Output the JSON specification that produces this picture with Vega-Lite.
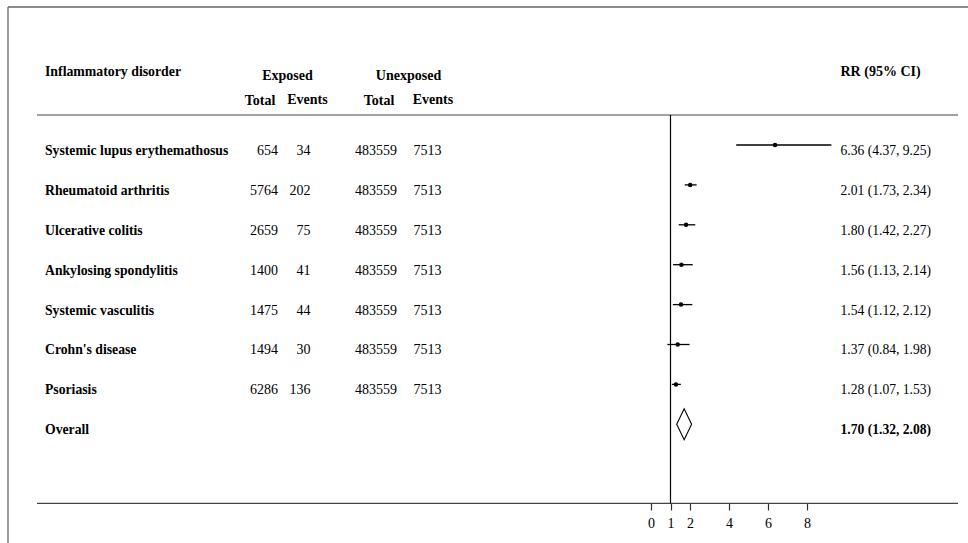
{
  "$schema": "https://vega.github.io/schema/vega-lite/v6.json",
  "width": 968,
  "height": 543,
  "padding": 0,
  "autosize": {"type": "none"},
  "background": "white",
  "config": {
    "view": {"stroke": null},
    "font": "Liberation Serif",
    "text": {"font": "Liberation Serif", "fontSize": 14, "color": "#000", "baseline": "alphabetic"},
    "axis": {"labelFont": "Liberation Serif", "labelFontSize": 14, "labelColor": "#000"}
  },
  "datasets": {
    "studies": [
      {"rank": 1, "disorder": "Systemic lupus erythemathosus", "exp_total": 654, "exp_events": 34, "unexp_total": 483559, "unexp_events": 7513, "rr": 6.36, "lo": 4.37, "hi": 9.25},
      {"rank": 2, "disorder": "Rheumatoid arthritis", "exp_total": 5764, "exp_events": 202, "unexp_total": 483559, "unexp_events": 7513, "rr": 2.01, "lo": 1.73, "hi": 2.34},
      {"rank": 3, "disorder": "Ulcerative colitis", "exp_total": 2659, "exp_events": 75, "unexp_total": 483559, "unexp_events": 7513, "rr": 1.80, "lo": 1.42, "hi": 2.27},
      {"rank": 4, "disorder": "Ankylosing spondylitis", "exp_total": 1400, "exp_events": 41, "unexp_total": 483559, "unexp_events": 7513, "rr": 1.56, "lo": 1.13, "hi": 2.14},
      {"rank": 5, "disorder": "Systemic vasculitis", "exp_total": 1475, "exp_events": 44, "unexp_total": 483559, "unexp_events": 7513, "rr": 1.54, "lo": 1.12, "hi": 2.12},
      {"rank": 6, "disorder": "Crohn's disease", "exp_total": 1494, "exp_events": 30, "unexp_total": 483559, "unexp_events": 7513, "rr": 1.37, "lo": 0.84, "hi": 1.98},
      {"rank": 7, "disorder": "Psoriasis", "exp_total": 6286, "exp_events": 136, "unexp_total": 483559, "unexp_events": 7513, "rr": 1.28, "lo": 1.07, "hi": 1.53},
      {"rank": 8, "disorder": "Overall", "rr": 1.70, "lo": 1.32, "hi": 2.08}
    ]
  },
  "resolve": {"scale": {"x": "independent", "y": "shared"}},
  "layer": [
    {
      "layer": [
        {
          "data": {"values": [{}]},
          "mark": {"type": "rule", "color": "#666", "strokeWidth": 1.3},
          "encoding": {
            "x": {"datum": 0, "type": "quantitative", "axis": null, "scale": {"domain": [0,1,2,3,4,5,6,7,8,9,10,11,12,13,14,15], "range": [8,37,45,260,278,287.5,307.5,310.5,379,397,408.5,433,441.5,840.5,958,968], "zero": false, "nice": false}},
            "x2": {"datum": 15},
            "y": {"datum": -2.459, "type": "quantitative", "axis": null, "scale": {"domain": [-2.634, 10.975], "reverse": true, "zero": false, "nice": false}}
          }
        },
        {
          "data": {"values": [{}]},
          "mark": {"type": "rule", "color": "#666", "strokeWidth": 1.3},
          "encoding": {
            "x": {"datum": 0, "type": "quantitative", "axis": null, "scale": {"domain": [0,1,2,3,4,5,6,7,8,9,10,11,12,13,14,15], "range": [8,37,45,260,278,287.5,307.5,310.5,379,397,408.5,433,441.5,840.5,958,968], "zero": false, "nice": false}},
            "y": {"datum": -2.459, "type": "quantitative", "axis": null, "scale": {"domain": [-2.634, 10.975], "reverse": true, "zero": false, "nice": false}},
            "y2": {"datum": 10.975}
          }
        },
        {
          "data": {"values": [{"at": 0.248}, {"at": 9.98}]},
          "mark": {"type": "rule", "color": "#444", "strokeWidth": 1.2},
          "encoding": {
            "x": {"datum": 1, "type": "quantitative", "axis": null, "scale": {"domain": [0,1,2,3,4,5,6,7,8,9,10,11,12,13,14,15], "range": [8,37,45,260,278,287.5,307.5,310.5,379,397,408.5,433,441.5,840.5,958,968], "zero": false, "nice": false}},
            "x2": {"datum": 14},
            "y": {"field": "at", "type": "quantitative", "axis": null, "scale": {"domain": [-2.634, 10.975], "reverse": true, "zero": false, "nice": false}}
          }
        },
        {
          "data": {"values": [{}]},
          "mark": {"type": "text", "text": "Inflammatory disorder", "align": "left", "fontWeight": "bold", "fontSize": 13.8},
          "encoding": {
            "x": {"datum": 2, "type": "quantitative", "axis": null, "scale": {"domain": [0,1,2,3,4,5,6,7,8,9,10,11,12,13,14,15], "range": [8,37,45,260,278,287.5,307.5,310.5,379,397,408.5,433,441.5,840.5,958,968], "zero": false, "nice": false}},
            "y": {"datum": -0.729, "type": "quantitative", "axis": null, "scale": {"domain": [-2.634, 10.975], "reverse": true, "zero": false, "nice": false}}
          }
        },
        {
          "data": {"values": [{}]},
          "mark": {"type": "text", "text": "RR (95% CI)", "align": "left", "fontWeight": "bold"},
          "encoding": {
            "x": {"datum": 13, "type": "quantitative", "axis": null, "scale": {"domain": [0,1,2,3,4,5,6,7,8,9,10,11,12,13,14,15], "range": [8,37,45,260,278,287.5,307.5,310.5,379,397,408.5,433,441.5,840.5,958,968], "zero": false, "nice": false}},
            "y": {"datum": -0.729, "type": "quantitative", "axis": null, "scale": {"domain": [-2.634, 10.975], "reverse": true, "zero": false, "nice": false}}
          }
        },
        {
          "data": {"values": [{}]},
          "mark": {"type": "text", "text": "Exposed", "align": "center", "fontWeight": "bold"},
          "encoding": {
            "x": {"datum": 5, "type": "quantitative", "axis": null, "scale": {"domain": [0,1,2,3,4,5,6,7,8,9,10,11,12,13,14,15], "range": [8,37,45,260,278,287.5,307.5,310.5,379,397,408.5,433,441.5,840.5,958,968], "zero": false, "nice": false}},
            "y": {"datum": -0.64, "type": "quantitative", "axis": null, "scale": {"domain": [-2.634, 10.975], "reverse": true, "zero": false, "nice": false}}
          }
        },
        {
          "data": {"values": [{}]},
          "mark": {"type": "text", "text": "Unexposed", "align": "center", "fontWeight": "bold"},
          "encoding": {
            "x": {"datum": 10, "type": "quantitative", "axis": null, "scale": {"domain": [0,1,2,3,4,5,6,7,8,9,10,11,12,13,14,15], "range": [8,37,45,260,278,287.5,307.5,310.5,379,397,408.5,433,441.5,840.5,958,968], "zero": false, "nice": false}},
            "y": {"datum": -0.64, "type": "quantitative", "axis": null, "scale": {"domain": [-2.634, 10.975], "reverse": true, "zero": false, "nice": false}}
          }
        },
        {
          "data": {"values": [{}]},
          "mark": {"type": "text", "text": "Total", "align": "center", "fontWeight": "bold"},
          "encoding": {
            "x": {"datum": 3, "type": "quantitative", "axis": null, "scale": {"domain": [0,1,2,3,4,5,6,7,8,9,10,11,12,13,14,15], "range": [8,37,45,260,278,287.5,307.5,310.5,379,397,408.5,433,441.5,840.5,958,968], "zero": false, "nice": false}},
            "y": {"datum": -0.005, "type": "quantitative", "axis": null, "scale": {"domain": [-2.634, 10.975], "reverse": true, "zero": false, "nice": false}}
          }
        },
        {
          "data": {"values": [{}]},
          "mark": {"type": "text", "text": "Events", "align": "center", "fontWeight": "bold"},
          "encoding": {
            "x": {"datum": 6, "type": "quantitative", "axis": null, "scale": {"domain": [0,1,2,3,4,5,6,7,8,9,10,11,12,13,14,15], "range": [8,37,45,260,278,287.5,307.5,310.5,379,397,408.5,433,441.5,840.5,958,968], "zero": false, "nice": false}},
            "y": {"datum": -0.015, "type": "quantitative", "axis": null, "scale": {"domain": [-2.634, 10.975], "reverse": true, "zero": false, "nice": false}}
          }
        },
        {
          "data": {"values": [{}]},
          "mark": {"type": "text", "text": "Total", "align": "center", "fontWeight": "bold"},
          "encoding": {
            "x": {"datum": 8, "type": "quantitative", "axis": null, "scale": {"domain": [0,1,2,3,4,5,6,7,8,9,10,11,12,13,14,15], "range": [8,37,45,260,278,287.5,307.5,310.5,379,397,408.5,433,441.5,840.5,958,968], "zero": false, "nice": false}},
            "y": {"datum": 0.01, "type": "quantitative", "axis": null, "scale": {"domain": [-2.634, 10.975], "reverse": true, "zero": false, "nice": false}}
          }
        },
        {
          "data": {"values": [{}]},
          "mark": {"type": "text", "text": "Events", "align": "center", "fontWeight": "bold"},
          "encoding": {
            "x": {"datum": 11, "type": "quantitative", "axis": null, "scale": {"domain": [0,1,2,3,4,5,6,7,8,9,10,11,12,13,14,15], "range": [8,37,45,260,278,287.5,307.5,310.5,379,397,408.5,433,441.5,840.5,958,968], "zero": false, "nice": false}},
            "y": {"datum": -0.04, "type": "quantitative", "axis": null, "scale": {"domain": [-2.634, 10.975], "reverse": true, "zero": false, "nice": false}}
          }
        },
        {
          "data": {"name": "studies"},
          "mark": {"type": "text", "align": "left", "fontWeight": "bold", "fontSize": 13.7, "dy": 10},
          "encoding": {
            "x": {"datum": 2, "type": "quantitative", "axis": null, "scale": {"domain": [0,1,2,3,4,5,6,7,8,9,10,11,12,13,14,15], "range": [8,37,45,260,278,287.5,307.5,310.5,379,397,408.5,433,441.5,840.5,958,968], "zero": false, "nice": false}},
            "y": {"field": "rank", "type": "quantitative", "axis": null, "scale": {"domain": [-2.634, 10.975], "reverse": true, "zero": false, "nice": false}},
            "text": {"field": "disorder", "type": "nominal"}
          }
        },
        {
          "data": {"name": "studies"},
          "transform": [{"filter": "isValid(datum.exp_total)"}],
          "mark": {"type": "text", "align": "right", "dy": 10},
          "encoding": {
            "x": {"datum": 4, "type": "quantitative", "axis": null, "scale": {"domain": [0,1,2,3,4,5,6,7,8,9,10,11,12,13,14,15], "range": [8,37,45,260,278,287.5,307.5,310.5,379,397,408.5,433,441.5,840.5,958,968], "zero": false, "nice": false}},
            "y": {"field": "rank", "type": "quantitative", "axis": null, "scale": {"domain": [-2.634, 10.975], "reverse": true, "zero": false, "nice": false}},
            "text": {"field": "exp_total", "type": "quantitative", "format": "d"}
          }
        },
        {
          "data": {"name": "studies"},
          "transform": [{"filter": "isValid(datum.exp_events)"}],
          "mark": {"type": "text", "align": "right", "dy": 10},
          "encoding": {
            "x": {"datum": 7, "type": "quantitative", "axis": null, "scale": {"domain": [0,1,2,3,4,5,6,7,8,9,10,11,12,13,14,15], "range": [8,37,45,260,278,287.5,307.5,310.5,379,397,408.5,433,441.5,840.5,958,968], "zero": false, "nice": false}},
            "y": {"field": "rank", "type": "quantitative", "axis": null, "scale": {"domain": [-2.634, 10.975], "reverse": true, "zero": false, "nice": false}},
            "text": {"field": "exp_events", "type": "quantitative", "format": "d"}
          }
        },
        {
          "data": {"name": "studies"},
          "transform": [{"filter": "isValid(datum.unexp_total)"}],
          "mark": {"type": "text", "align": "right", "dy": 10},
          "encoding": {
            "x": {"datum": 9, "type": "quantitative", "axis": null, "scale": {"domain": [0,1,2,3,4,5,6,7,8,9,10,11,12,13,14,15], "range": [8,37,45,260,278,287.5,307.5,310.5,379,397,408.5,433,441.5,840.5,958,968], "zero": false, "nice": false}},
            "y": {"field": "rank", "type": "quantitative", "axis": null, "scale": {"domain": [-2.634, 10.975], "reverse": true, "zero": false, "nice": false}},
            "text": {"field": "unexp_total", "type": "quantitative", "format": "d"}
          }
        },
        {
          "data": {"name": "studies"},
          "transform": [{"filter": "isValid(datum.unexp_events)"}],
          "mark": {"type": "text", "align": "right", "dy": 10},
          "encoding": {
            "x": {"datum": 12, "type": "quantitative", "axis": null, "scale": {"domain": [0,1,2,3,4,5,6,7,8,9,10,11,12,13,14,15], "range": [8,37,45,260,278,287.5,307.5,310.5,379,397,408.5,433,441.5,840.5,958,968], "zero": false, "nice": false}},
            "y": {"field": "rank", "type": "quantitative", "axis": null, "scale": {"domain": [-2.634, 10.975], "reverse": true, "zero": false, "nice": false}},
            "text": {"field": "unexp_events", "type": "quantitative", "format": "d"}
          }
        },
        {
          "data": {"name": "studies"},
          "transform": [
            {"filter": "datum.disorder !== 'Overall'"},
            {"calculate": "format(datum.rr, '.2f') + ' (' + format(datum.lo, '.2f') + ', ' + format(datum.hi, '.2f') + ')'", "as": "ci_label"}
          ],
          "mark": {"type": "text", "align": "left", "fontSize": 13.6, "dy": 10},
          "encoding": {
            "x": {"datum": 13, "type": "quantitative", "axis": null, "scale": {"domain": [0,1,2,3,4,5,6,7,8,9,10,11,12,13,14,15], "range": [8,37,45,260,278,287.5,307.5,310.5,379,397,408.5,433,441.5,840.5,958,968], "zero": false, "nice": false}},
            "y": {"field": "rank", "type": "quantitative", "axis": null, "scale": {"domain": [-2.634, 10.975], "reverse": true, "zero": false, "nice": false}},
            "text": {"field": "ci_label", "type": "nominal"}
          }
        },
        {
          "data": {"name": "studies"},
          "transform": [
            {"filter": "datum.disorder === 'Overall'"},
            {"calculate": "format(datum.rr, '.2f') + ' (' + format(datum.lo, '.2f') + ', ' + format(datum.hi, '.2f') + ')'", "as": "ci_label"}
          ],
          "mark": {"type": "text", "align": "left", "fontWeight": "bold", "fontSize": 13.6, "dy": 10},
          "encoding": {
            "x": {"datum": 13, "type": "quantitative", "axis": null, "scale": {"domain": [0,1,2,3,4,5,6,7,8,9,10,11,12,13,14,15], "range": [8,37,45,260,278,287.5,307.5,310.5,379,397,408.5,433,441.5,840.5,958,968], "zero": false, "nice": false}},
            "y": {"field": "rank", "type": "quantitative", "axis": null, "scale": {"domain": [-2.634, 10.975], "reverse": true, "zero": false, "nice": false}},
            "text": {"field": "ci_label", "type": "nominal"}
          }
        }
      ]
    },
    {
      "layer": [
        {
          "data": {"values": [{}]},
          "mark": {"type": "rule", "color": "#000", "strokeWidth": 1.2},
          "encoding": {
            "x": {"datum": 1, "type": "quantitative", "scale": {"domain": [-33.3846, 16.2564], "zero": false, "nice": false}, "axis": {"values": [0, 1, 2, 4, 6, 8], "offset": -40, "domain": false, "grid": false, "tickSize": 7, "tickColor": "#333", "tickWidth": 1.2, "labelFont": "Liberation Serif", "labelFontSize": 14, "labelColor": "#000", "labelPadding": 6, "labelFlush": false, "labelOverlap": false, "title": null}},
            "y": {"datum": 0.248, "type": "quantitative", "axis": null, "scale": {"domain": [-2.634, 10.975], "reverse": true, "zero": false, "nice": false}},
            "y2": {"datum": 9.98}
          }
        },
        {
          "data": {"name": "studies"},
          "transform": [{"filter": "datum.disorder !== 'Overall'"}],
          "mark": {"type": "rule", "color": "#000", "strokeWidth": 1.3},
          "encoding": {
            "x": {"field": "lo", "type": "quantitative", "scale": {"domain": [-33.3846, 16.2564], "zero": false, "nice": false}, "axis": {"values": [0, 1, 2, 4, 6, 8], "offset": -40, "domain": false, "grid": false, "tickSize": 7, "tickColor": "#333", "tickWidth": 1.2, "labelFont": "Liberation Serif", "labelFontSize": 14, "labelColor": "#000", "labelPadding": 6, "labelFlush": false, "labelOverlap": false, "title": null}},
            "x2": {"field": "hi"},
            "y": {"field": "rank", "type": "quantitative", "axis": null, "scale": {"domain": [-2.634, 10.975], "reverse": true, "zero": false, "nice": false}}
          }
        },
        {
          "data": {"name": "studies"},
          "transform": [{"filter": "datum.disorder !== 'Overall'"}],
          "mark": {"type": "point", "shape": "circle", "filled": true, "color": "#000", "size": 20, "opacity": 1},
          "encoding": {
            "x": {"field": "rr", "type": "quantitative", "scale": {"domain": [-33.3846, 16.2564], "zero": false, "nice": false}, "axis": {"values": [0, 1, 2, 4, 6, 8], "offset": -40, "domain": false, "grid": false, "tickSize": 7, "tickColor": "#333", "tickWidth": 1.2, "labelFont": "Liberation Serif", "labelFontSize": 14, "labelColor": "#000", "labelPadding": 6, "labelFlush": false, "labelOverlap": false, "title": null}},
            "y": {"field": "rank", "type": "quantitative", "axis": null, "scale": {"domain": [-2.634, 10.975], "reverse": true, "zero": false, "nice": false}}
          }
        },
        {
          "data": {"name": "studies"},
          "transform": [{"filter": "datum.disorder === 'Overall'"}],
          "mark": {"type": "point", "shape": "M-0.48,0L0,-1L0.48,0L0,1Z", "filled": true, "fill": "#fff", "stroke": "#000", "strokeWidth": 1.1, "size": 961, "opacity": 1},
          "encoding": {
            "x": {"field": "rr", "type": "quantitative", "scale": {"domain": [-33.3846, 16.2564], "zero": false, "nice": false}, "axis": {"values": [0, 1, 2, 4, 6, 8], "offset": -40, "domain": false, "grid": false, "tickSize": 7, "tickColor": "#333", "tickWidth": 1.2, "labelFont": "Liberation Serif", "labelFontSize": 14, "labelColor": "#000", "labelPadding": 6, "labelFlush": false, "labelOverlap": false, "title": null}},
            "y": {"field": "rank", "type": "quantitative", "axis": null, "scale": {"domain": [-2.634, 10.975], "reverse": true, "zero": false, "nice": false}}
          }
        }
      ]
    }
  ]
}
